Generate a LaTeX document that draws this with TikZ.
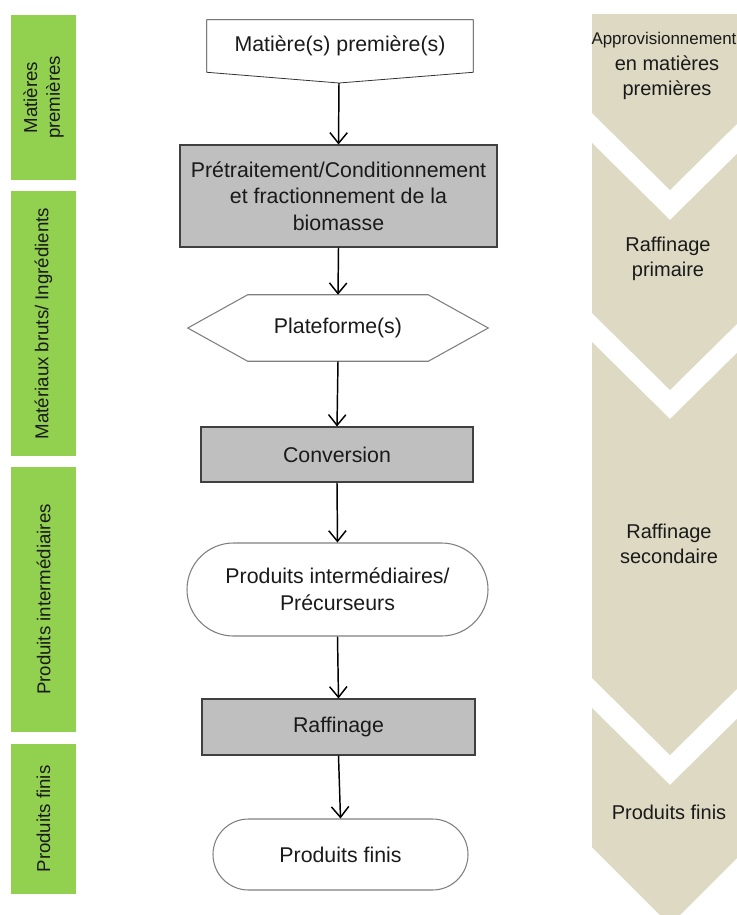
\documentclass[tikz,border=0pt]{standalone}
\usepackage{fontspec}
\setmainfont{Liberation Sans}
\usepackage{xcolor}
\usepackage{tikz}
\usetikzlibrary{shapes,shapes.misc,positioning,arrows.meta}

\definecolor{barGreen}{HTML}{92D050}
\definecolor{chevBeige}{HTML}{DDD9C3}
\definecolor{boxGray}{HTML}{BFBFBF}
\definecolor{lineGray}{HTML}{7F7F7F}
\definecolor{textDark}{HTML}{1A1A1A}

\tikzset{
    bar/.style={fill=barGreen, rotate=90, inner sep=0pt, minimum height=48.75pt,
        align=center, text=textDark, font=\fontsize{14}{17}\selectfont},
    procbox/.style={draw=black!75, line width=0.8pt, fill=boxGray, inner sep=0pt,
        align=center, text=textDark, font=\fontsize{16}{20}\selectfont},
    plainbox/.style={inner sep=0pt, align=center, text=textDark, font=\fontsize{16}{20}\selectfont},
    stadium/.style={rounded rectangle, draw=lineGray, line width=0.8pt, inner sep=0pt,
        align=center, text=textDark, font=\fontsize{16}{20}\selectfont},
    chevlabel/.style={align=center, text=textDark, font=\fontsize{15}{19}\selectfont},
    flow/.style={line width=1.1pt, -{Straight Barb[length=8pt,width=13pt]}}
}

\begin{document}
\begin{tikzpicture}[x=0.75pt,y=-0.75pt]
    \useasboundingbox (0,0) rectangle (737,915);

    % Stages (left)
    \node[bar, minimum width=123.75pt] (b1) at (43.5,97.5) {Matières\\premières};
    \node[bar, minimum width=198.75pt] (b2) at (43.5,323.5) {Matériaux bruts/ Ingrédients};
    \node[bar, minimum width=198.75pt] (b3) at (43.5,599.5) {Produits intermédiaires};
    \node[bar, minimum width=112.5pt] (b4) at (43.5,819) {Produits finis};

    % Chevrons (right)
    \begin{scope}
        \clip (0,0) rectangle (737,915);
        \fill[chevBeige] (592,14) -- (748,14) -- (748,113) -- (670,190) -- (592,113) -- cycle;
        \fill[chevBeige] (592,143) -- (670,220) -- (748,143) -- (748,313) -- (670,390) -- (592,313) -- cycle;
        \fill[chevBeige] (592,342) -- (670,419) -- (748,342) -- (748,678) -- (670,755) -- (592,678) -- cycle;
        \fill[chevBeige] (592,708) -- (670,785) -- (748,708) -- (748,847) -- (670,925) -- (592,847) -- cycle;
    \end{scope}
    \node[chevlabel, font=\fontsize{12.7}{15}\selectfont] (appro) at (664,40) {Approvisionnement};
    \node[chevlabel] (c1) at (667,78) {en matières\\premières};
    \node[chevlabel] (c2) at (668,259) {Raffinage\\primaire};
    \node[chevlabel] (c3) at (669,544) {Raffinage\\secondaire};
    \node[chevlabel] (c4) at (669,812) {Produits finis};

    % Flowchart (centre)
    \node[plainbox, minimum width=199.5pt, minimum height=39pt] (mp) at (340,46) {Matière(s) première(s)};
    \coordinate (mptip) at (339,83);
    \draw[black!80, line width=0.6pt] (mp.north west) -- (mp.north east) -- (mp.south east)
        -- (mptip) -- (mp.south west) -- cycle;

    \node[procbox, minimum width=237.75pt, minimum height=76.5pt] (pre) at (338.5,196)
        {Prétraitement/Conditionnement\\et fractionnement de la\\biomasse};

    \node[plainbox, minimum width=135pt, minimum height=49.5pt] (plat) at (338,328) {Plateforme(s)};
    \draw[lineGray, line width=0.8pt] (plat.north west) -- (plat.north east) -- ([xshift=45pt]plat.east)
        -- (plat.south east) -- (plat.south west) -- ([xshift=-45pt]plat.west) -- cycle;

    \node[procbox, minimum width=204pt, minimum height=41.25pt] (conv) at (337,454.5) {Conversion};

    \node[stadium, minimum width=225.75pt, minimum height=69.75pt] (inter) at (337.5,589.5)
        {Produits intermédiaires/\\Précurseurs};

    \node[procbox, minimum width=204.75pt, minimum height=42pt] (raff) at (338.5,727) {Raffinage};

    \node[stadium, minimum width=191.25pt, minimum height=53.25pt] (fin) at (340.5,854.5) {Produits finis};

    % Arrows
    \draw[flow] (mptip) -- (pre.north);
    \draw[flow] (pre.south) -- (plat.north);
    \draw[flow] (plat.south) -- (conv.north);
    \draw[flow] (conv.south) -- (inter.north);
    \draw[flow] (inter.south) -- (raff.north);
    \draw[flow] (raff.south) -- (fin.north);
\end{tikzpicture}
\end{document}
